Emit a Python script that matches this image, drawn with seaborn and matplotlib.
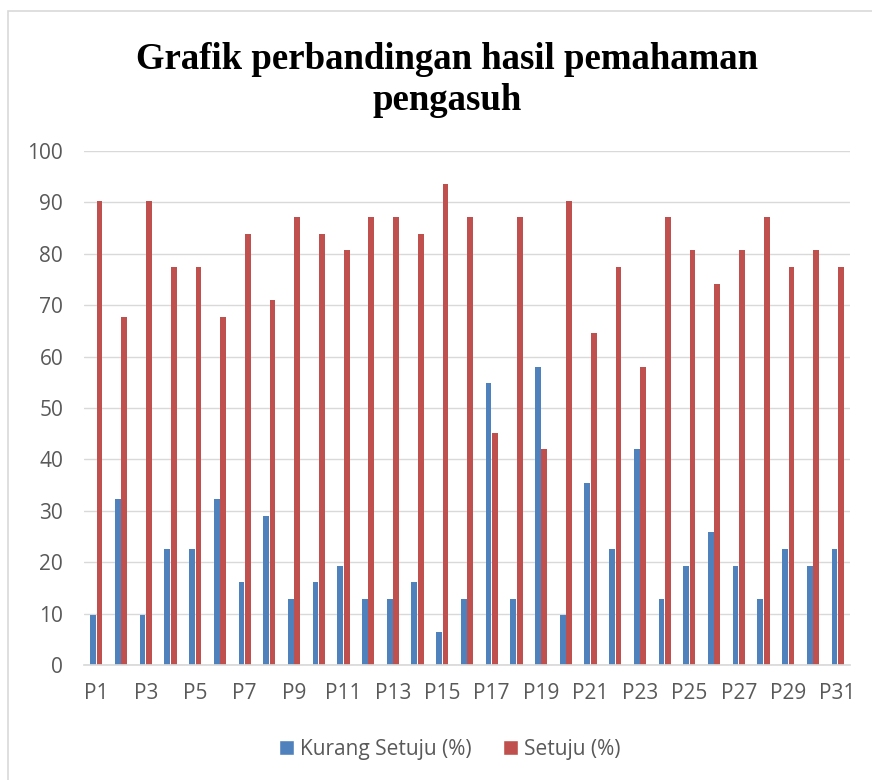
import pandas as pd
import matplotlib.pyplot as plt
import seaborn as sns
from matplotlib.patches import Rectangle, Patch

# values (percent of 31 respondents)
labels = ["P%d" % i for i in range(1, 32)]
kurang_setuju = [9.68, 32.26, 9.68, 22.58, 22.58, 32.26, 16.13, 29.03, 12.90, 16.13,
                 19.35, 12.90, 12.90, 16.13, 6.45, 12.90, 54.84, 12.90, 58.06, 9.68,
                 35.48, 22.58, 41.94, 12.90, 19.35, 25.81, 19.35, 12.90, 22.58, 19.35,
                 22.58]
setuju = [90.32, 67.74, 90.32, 77.42, 77.42, 67.74, 83.87, 70.97, 87.10, 83.87,
          80.65, 87.10, 87.10, 83.87, 93.55, 87.10, 45.16, 87.10, 41.94, 90.32,
          64.52, 77.42, 58.06, 87.10, 80.65, 74.19, 80.65, 87.10, 77.42, 80.65,
          77.42]
series = ["Kurang Setuju (%)", "Setuju (%)"]
colors = ["#4F81BD", "#C0504D"]

df = pd.DataFrame({"Pertanyaan": labels * 2,
                   "Nilai": kurang_setuju + setuju,
                   "Seri": [series[0]] * 31 + [series[1]] * 31})

sns.set_theme(style="white")
plt.rcParams["font.family"] = ["Open Sans", "DejaVu Sans"]

fig = plt.figure(figsize=(8.72, 7.8), dpi=100)
ax = fig.add_axes([84 / 872, 115 / 780, 766 / 872, 514 / 780])

sns.barplot(data=df, x="Pertanyaan", y="Nilai", hue="Seri", palette=colors,
            width=0.52, gap=0.1, saturation=1, linewidth=0, ax=ax, legend=False)

ax.set_ylim(0, 100)
ax.set_yticks(range(0, 101, 10))
ax.set_xlim(-0.5, 30.5)
ax.set_xticks(range(31))
ax.set_xticklabels([l if i % 2 == 0 else "" for i, l in enumerate(labels)])
ax.set_xlabel("")
ax.set_ylabel("")
ax.grid(axis="y", color="#D9D9D9", linewidth=1)
ax.set_axisbelow(True)
for s in ["left", "right", "top"]:
    ax.spines[s].set_visible(False)
ax.spines["bottom"].set_color("#D9D9D9")
ax.tick_params(axis="both", length=0, labelsize=15, colors="#595959")
ax.tick_params(axis="x", pad=13)
ax.tick_params(axis="y", pad=15)

fig.text(447 / 872, 1 - 80 / 780, "Grafik perbandingan hasil pemahaman\npengasuh",
         ha="center", va="center", fontsize=26.5, fontweight="bold",
         family="Liberation Serif", color="black", linespacing=1.25)

handles = [Patch(facecolor=c, label=s) for c, s in zip(colors, series)]
fig.legend(handles=handles, loc="center", bbox_to_anchor=(450 / 872, 1 - 749 / 780),
           ncol=2, frameon=False, fontsize=15, handlelength=0.7, handleheight=0.7,
           columnspacing=1.5, handletextpad=0.3, labelcolor="#595959")

fig.add_artist(Rectangle((8 / 872, -0.01), 1.0, 1 - 11 / 780 + 0.01,
                         transform=fig.transFigure, fill=False,
                         edgecolor="#D9D9D9", linewidth=1.2))

fig.savefig("out.png", dpi=100)
